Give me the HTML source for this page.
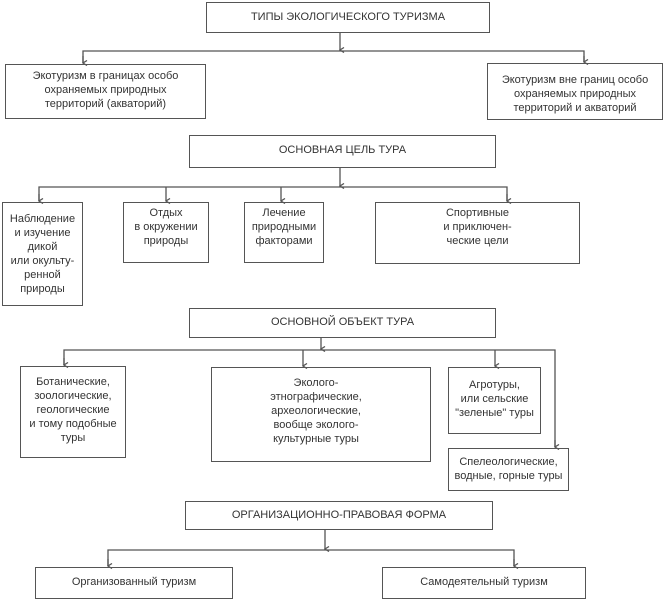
<!DOCTYPE html>
<html><head><meta charset="utf-8"><style>
body{margin:0;width:664px;height:600px;background:#fff;position:relative;overflow:hidden;font-family:"Liberation Sans",Arial,sans-serif;color:#333}
.b{position:absolute;border:1.5px solid #555;box-sizing:border-box;font-size:11px;line-height:14px;text-align:center;letter-spacing:0;background:transparent}
svg{position:absolute;left:0;top:0}
</style></head><body>
<svg width="664" height="600" stroke="#555" stroke-width="1.3" fill="none">
<defs><marker id="a" markerWidth="6" markerHeight="6" refX="3" refY="5" orient="auto" markerUnits="userSpaceOnUse"><path d="M0.5,1 L3,5 L5.5,1" stroke="#555" fill="none"/></marker></defs>
<line x1="340" y1="32" x2="340" y2="50" marker-end="url(#a)"/>
<polyline points="83,63 83,51 584,51 584,62"/>
<line x1="83" y1="56" x2="83" y2="63" marker-end="url(#a)"/>
<line x1="584" y1="56" x2="584" y2="62" marker-end="url(#a)"/>
<line x1="340" y1="167" x2="340" y2="186" marker-end="url(#a)"/>
<polyline points="39,201 39,187 507,187 507,201"/>
<line x1="39" y1="194" x2="39" y2="201" marker-end="url(#a)"/>
<line x1="166" y1="187" x2="166" y2="201" marker-end="url(#a)"/>
<line x1="281" y1="187" x2="281" y2="201" marker-end="url(#a)"/>
<line x1="507" y1="194" x2="507" y2="201" marker-end="url(#a)"/>
<line x1="321" y1="337" x2="321" y2="349" marker-end="url(#a)"/>
<polyline points="64,365 64,350 555,350 555,447"/>
<line x1="64" y1="358" x2="64" y2="365" marker-end="url(#a)"/>
<line x1="303" y1="350" x2="303" y2="366" marker-end="url(#a)"/>
<line x1="495" y1="350" x2="495" y2="366" marker-end="url(#a)"/>
<line x1="555" y1="440" x2="555" y2="447" marker-end="url(#a)"/>
<line x1="325" y1="529" x2="325" y2="549" marker-end="url(#a)"/>
<polyline points="108,566 108,550 514,550 514,566"/>
<line x1="108" y1="559" x2="108" y2="566" marker-end="url(#a)"/>
<line x1="514" y1="559" x2="514" y2="566" marker-end="url(#a)"/>
</svg>
<div class="b" style="left:206px;top:2px;width:284px;height:31px;line-height:28px">ТИПЫ ЭКОЛОГИЧЕСКОГО ТУРИЗМА</div>
<div class="b" style="left:5px;top:64px;width:201px;height:55px;padding-top:4px">Экотуризм в границах особо<br>охраняемых природных<br>территорий (акваторий)</div>
<div class="b" style="left:487px;top:63px;width:176px;height:57px;padding-top:9px">Экотуризм вне границ особо<br>охраняемых природных<br>территорий и акваторий</div>
<div class="b" style="left:189px;top:135px;width:307px;height:33px;line-height:28px">ОСНОВНАЯ ЦЕЛЬ ТУРА</div>
<div class="b" style="left:2px;top:202px;width:81px;height:104px;padding-top:9px">Наблюдение<br>и изучение<br>дикой<br>или окульту-<br>ренной<br>природы</div>
<div class="b" style="left:123px;top:202px;width:86px;height:61px;padding-top:3px">Отдых<br>в окружении<br>природы</div>
<div class="b" style="left:244px;top:202px;width:80px;height:61px;padding-top:3px">Лечение<br>природными<br>факторами</div>
<div class="b" style="left:375px;top:202px;width:205px;height:62px;padding-top:3px">Спортивные<br>и приключен-<br>ческие цели</div>
<div class="b" style="left:189px;top:308px;width:307px;height:30px;line-height:27px">ОСНОВНОЙ ОБЪЕКТ ТУРА</div>
<div class="b" style="left:20px;top:366px;width:106px;height:92px;padding-top:8px">Ботанические,<br>зоологические,<br>геологические<br>и тому подобные<br>туры</div>
<div class="b" style="left:211px;top:367px;width:220px;height:95px;padding-top:8px;padding-right:10px">Эколого-<br>этнографические,<br>археологические,<br>вообще эколого-<br>культурные туры</div>
<div class="b" style="left:448px;top:367px;width:93px;height:67px;padding-top:10px">Агротуры,<br>или сельские<br>"зеленые" туры</div>
<div class="b" style="left:448px;top:448px;width:121px;height:43px;padding-top:6px">Спелеологические,<br>водные, горные туры</div>
<div class="b" style="left:185px;top:501px;width:308px;height:29px;line-height:26px">ОРГАНИЗАЦИОННО-ПРАВОВАЯ ФОРМА</div>
<div class="b" style="left:35px;top:567px;width:198px;height:32px;line-height:29px">Организованный туризм</div>
<div class="b" style="left:382px;top:567px;width:204px;height:32px;line-height:29px">Самодеятельный туризм</div>
</body></html>
